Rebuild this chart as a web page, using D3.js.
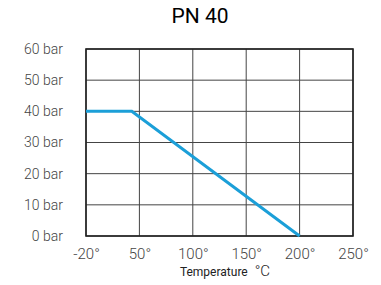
<!DOCTYPE html>
<html>
<head>
<meta charset="utf-8">
<script src="https://cdn.jsdelivr.net/npm/d3@7"></script>
<style>
  body { margin: 0; background: #fff; }
  svg text { font-family: Roboto, 'Noto Sans', sans-serif; }
</style>
</head>
<body>
<div id="chart"></div>
<script>
// data
var xTicks = [-20, 50, 100, 150, 200, 250];
var yTicks = [0, 10, 20, 30, 40, 50, 60];
var tempC = [-20, 40, 200];
var pressureBar = [40, 40, 0];

var margin = { top: 49, right: 28, bottom: 49, left: 86 };
var width = 381 - margin.left - margin.right;
var height = 285 - margin.top - margin.bottom;

var svg = d3.select('#chart')
    .append('svg')
    .attr('width', 381)
    .attr('height', 285);

var g = svg.append('g')
    .attr('transform', 'translate(' + margin.left + ',' + margin.top + ')');

// ticks are evenly spaced even though the first step is 70 degrees
var x = d3.scaleLinear()
    .domain(xTicks)
    .range(xTicks.map(function (d, i) { return i * width / (xTicks.length - 1); }));
var y = d3.scaleLinear().domain([0, 60]).range([height, 0]);

// grid
g.append('g')
    .selectAll('line')
    .data(xTicks)
    .enter().append('line')
    .attr('x1', function (d) { return x(d); })
    .attr('x2', function (d) { return x(d); })
    .attr('y1', 0)
    .attr('y2', height)
    .attr('stroke', '#444')
    .attr('stroke-width', 1);

g.append('g')
    .selectAll('line')
    .data(yTicks)
    .enter().append('line')
    .attr('x1', 0)
    .attr('x2', width)
    .attr('y1', function (d) { return y(d); })
    .attr('y2', function (d) { return y(d); })
    .attr('stroke', '#444')
    .attr('stroke-width', 1);

g.append('rect')
    .attr('x', 0)
    .attr('y', 0)
    .attr('width', width)
    .attr('height', height)
    .attr('fill', 'none')
    .attr('stroke', '#222')
    .attr('stroke-width', 1.6);

// axes (labels only)
var yAxis = d3.axisLeft(y)
    .tickValues(yTicks)
    .tickSize(0)
    .tickPadding(23)
    .tickFormat(function (d) { return d + ' bar'; });
var yg = g.append('g').call(yAxis);
yg.select('.domain').remove();
yg.selectAll('text')
    .style('font-size', '14px')
    .style('font-weight', '300')
    .attr('fill', '#444');

var xAxis = d3.axisBottom(x)
    .tickValues(xTicks)
    .tickSize(0)
    .tickPadding(12)
    .tickFormat(function (d) { return d + '°'; });
var xg = g.append('g')
    .attr('transform', 'translate(0,' + height + ')')
    .call(xAxis);
xg.select('.domain').remove();
xg.selectAll('text')
    .style('font-size', '15px')
    .style('font-weight', '300')
    .attr('fill', '#444');

// line
var pts = tempC.map(function (t, i) { return [t, pressureBar[i]]; });
var line = d3.line()
    .x(function (d) { return x(d[0]); })
    .y(function (d) { return y(d[1]); });
g.append('path')
    .datum(pts)
    .attr('d', line)
    .attr('fill', 'none')
    .attr('stroke', '#1b9fd8')
    .attr('stroke-width', 3);

// title
svg.append('text')
    .attr('x', 200)
    .attr('y', 23)
    .attr('text-anchor', 'middle')
    .style('font-size', '21px')
    .style('font-weight', '400')
    .attr('fill', '#000')
    .text('PN 40');

// x label
var lab = svg.append('text')
    .attr('x', 225)
    .attr('y', 276)
    .attr('text-anchor', 'middle')
    .attr('fill', '#222');
lab.append('tspan').style('font-size', '12px').text('Temperature ');
lab.append('tspan').style('font-size', '15px').style('font-weight', '300').attr('dx', 4).text('°C');
</script>
</body>
</html>
